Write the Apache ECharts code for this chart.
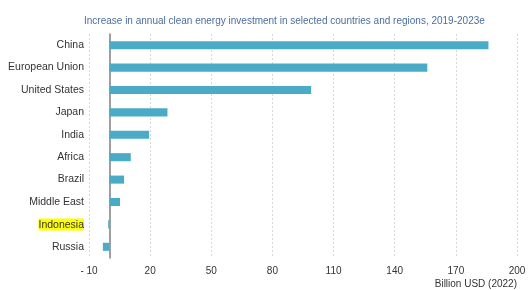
<!DOCTYPE html>
<html>
<head>
<meta charset="utf-8">
<script src="https://cdn.jsdelivr.net/npm/echarts@6/dist/echarts.min.js"></script>
<style>
    html, body { margin: 0; padding: 0; background: #fff; }
    #chart { width: 528px; height: 290px; }
</style>
</head>
<body>
<div id="chart"></div>
<script>
// categories from top to bottom
const regions = ['China', 'European Union', 'United States', 'Japan', 'India', 'Africa', 'Brazil', 'Middle East', 'Indonesia', 'Russia'];
// increase 2019-2023e, billion USD (2022)
const increase = [186, 156, 99, 28.5, 19.5, 10.5, 7.2, 5.2, -0.6, -3.2];
const tickMin = -10;
const tickMax = 200;
const tickStep = 30;

const chart = echarts.init(document.getElementById('chart'));

chart.setOption({
    animation: false,
    textStyle: { fontFamily: 'Liberation Sans, Arial, sans-serif' },
    title: {
        text: 'Increase in annual clean energy investment in selected countries and regions, 2019-2023e',
        left: 79,
        top: 11,
        textStyle: { fontSize: 10, fontWeight: 'normal', color: '#4a6ea0' }
    },
    grid: { left: 89, right: 11, top: 34, bottom: 32, containLabel: false, outerBoundsMode: 'none' },
    xAxis: {
        type: 'value',
        min: tickMin,
        max: tickMax,
        interval: tickStep,
        name: 'Billion USD (2022)',
        nameLocation: 'end',
        nameGap: 0,
        nameTextStyle: { fontSize: 10, color: '#333', align: 'right', verticalAlign: 'top', padding: [21, 0, 0, 0] },
        axisLine: { show: false },
        axisTick: { show: false },
        axisLabel: {
            fontSize: 10,
            color: '#333',
            margin: 8,
            formatter: function (v) { return v < 0 ? '- ' + Math.abs(v) : String(v); }
        },
        splitLine: { show: true, lineStyle: { color: '#d9d9d9', type: [2, 2], width: 1 } }
    },
    yAxis: {
        type: 'category',
        data: regions,
        inverse: true,
        axisLine: { show: true, onZero: true, lineStyle: { color: '#7f7f7f', width: 1.5 } },
        axisTick: { show: false },
        axisLabel: {
            fontSize: 10.5,
            color: '#333',
            margin: 5,
            formatter: function (v) { return v === 'Indonesia' ? '{hl|' + v + '}' : v; },
            rich: {
                hl: { backgroundColor: '#ffff00', color: '#333', fontSize: 10.5, padding: [1, 0, 0, 0] }
            }
        }
    },
    series: [{
        type: 'bar',
        data: increase,
        barCategoryGap: '64%',
        itemStyle: { color: '#4aabc6' }
    }]
});
</script>
</body>
</html>
